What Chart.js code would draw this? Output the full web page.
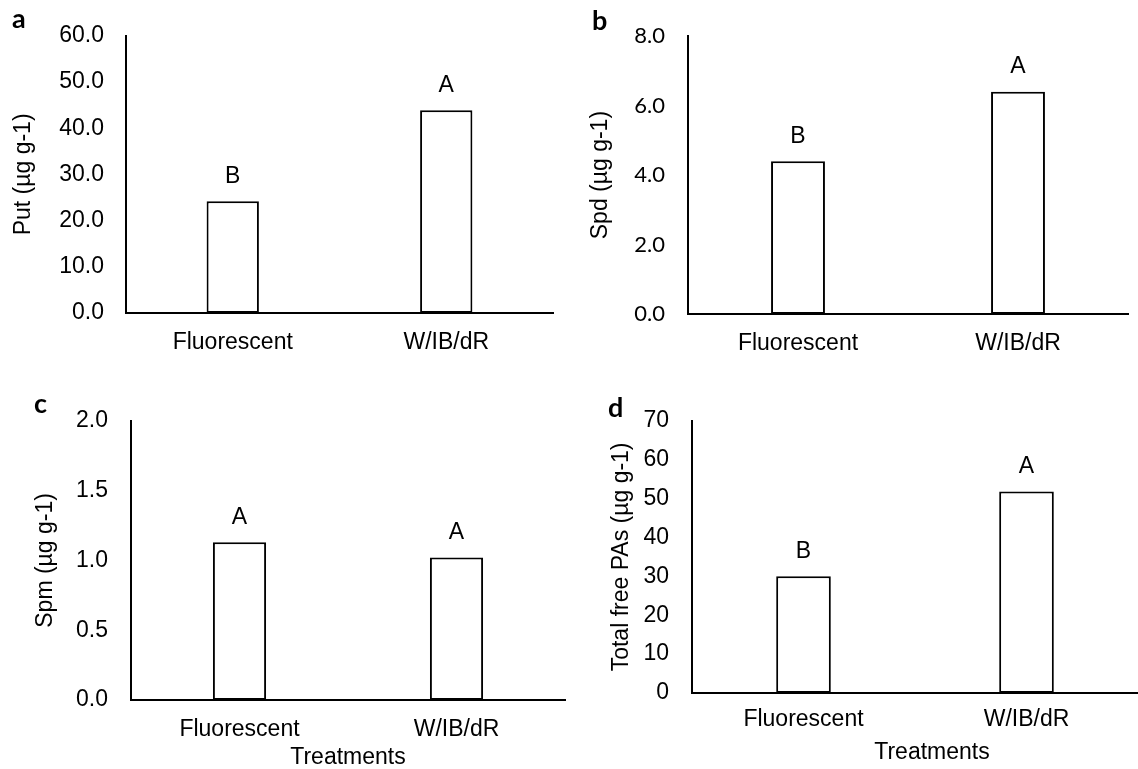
<!DOCTYPE html>
<html>
<head>
<meta charset="utf-8">
<script src="https://cdn.jsdelivr.net/npm/chart.js@4.4.1/dist/chart.umd.min.js"></script>
<style>
  html, body { margin: 0; padding: 0; background: #fff; width: 1138px; height: 769px; overflow: hidden; }
  canvas { position: absolute; }
</style>
</head>
<body>
<canvas id="ca" width="569" height="384" style="left:0px;top:0px;width:569px;height:384px"></canvas>
<canvas id="cb" width="569" height="384" style="left:569px;top:0px;width:569px;height:384px"></canvas>
<canvas id="cc" width="569" height="416" style="left:0px;top:384px;width:569px;height:416px"></canvas>
<canvas id="cd" width="569" height="416" style="left:569px;top:384px;width:569px;height:416px"></canvas>
<script>
// ---- data ----
const categories = ['Fluorescent', 'W/IB/dR'];

const putValues = [24.2, 43.9];
const spdValues = [4.4, 6.4];
const spmValues = [1.13, 1.02];
const totalValues = [30.0, 51.8];

const putLetters = ['B', 'A'];
const spdLetters = ['B', 'A'];
const spmLetters = ['A', 'A'];
const totalLetters = ['B', 'A'];

const putTicks = [0, 10, 20, 30, 40, 50, 60];
const spdTicks = [0, 2, 4, 6, 8];
const spmTicks = [0, 0.5, 1.0, 1.5, 2.0];
const totalTicks = [0, 10, 20, 30, 40, 50, 60, 70];

const panelNames = ['a', 'b', 'c', 'd'];
const yTitles = ['Put (µg g-1)', 'Spd (µg g-1)', 'Spm (µg g-1)', 'Total free PAs (µg g-1)'];
const xTitle = 'Treatments';

// ---- plugins ----
const ARIAL = "'Liberation Sans', Arial, sans-serif";
const CALIBRI = "Lato, 'Open Sans', sans-serif";

const letterPlugin = {
  id: 'sigLetters',
  afterDatasetsDraw(chart, args, opts) {
    const ctx = chart.ctx;
    const meta = chart.getDatasetMeta(0);
    ctx.save();
    ctx.fillStyle = '#000';
    ctx.font = opts.font;
    ctx.textAlign = 'center';
    ctx.textBaseline = 'middle';
    meta.data.forEach((bar, i) => {
      ctx.fillText(opts.letters[i], bar.x, bar.y - opts.offset);
    });
    ctx.restore();
  }
};

const panelLabelPlugin = {
  id: 'panelLabel',
  afterDraw(chart, args, opts) {
    const ctx = chart.ctx;
    ctx.save();
    ctx.fillStyle = '#000';
    ctx.font = opts.font;
    ctx.textAlign = 'left';
    ctx.textBaseline = 'alphabetic';
    ctx.fillText(opts.text, opts.x, opts.y);
    if (opts.xTitle) {
      const a = chart.chartArea;
      ctx.font = opts.xTitleFont;
      ctx.textAlign = 'center';
      ctx.textBaseline = 'middle';
      ctx.fillText(opts.xTitle, (a.left + a.right) / 2 + opts.xTitleShift, opts.xTitleY);
    }
    ctx.restore();
  }
};

function makePanel(id, p) {
  const font = { family: ARIAL, size: 23 };
  new Chart(document.getElementById(id), {
    type: 'bar',
    data: {
      labels: categories,
      datasets: [{
        data: p.values,
        backgroundColor: '#ffffff',
        borderColor: '#000000',
        borderWidth: 2,
        borderSkipped: false,
        barPercentage: 0.245,
        categoryPercentage: 1.0
      }]
    },
    options: {
      responsive: false,
      animation: false,
      layout: { padding: { top: p.padTop, right: p.padRight, left: 0, bottom: 0 } },
      plugins: {
        legend: { display: false },
        tooltip: { enabled: false },
        sigLetters: { letters: p.letters, offset: 25, font: "23px " + ARIAL },
        panelLabel: {
          text: p.name, x: p.nameX, y: p.nameY, font: "bold 27px " + CALIBRI,
          xTitle: p.xTitle, xTitleY: p.xTitleY, xTitleShift: p.xTitleShift || 0, xTitleFont: "23px " + ARIAL
        }
      },
      scales: {
        x: {
          grid: { display: false, drawTicks: false },
          border: { display: true, color: '#000', width: 2 },
          ticks: { color: '#000', font: font, padding: p.xTickPad, maxRotation: 0 },
          afterFit: s => { s.height = p.xHeight; }
        },
        y: {
          min: p.ticks[0],
          max: p.ticks[p.ticks.length - 1],
          afterBuildTicks: s => { s.ticks = p.ticks.map(v => ({ value: v })); },
          grid: { display: false, drawTicks: false },
          border: { display: true, color: '#000', width: 2 },
          ticks: {
            color: '#000',
            font: p.tickFont || font,
            padding: p.yTickPad,
            callback: v => Number(v).toFixed(p.decimals)
          },
          title: {
            display: true, text: p.yTitle, color: '#000', font: font,
            padding: { top: p.yTitlePad, bottom: 0 }
          },
          afterFit: s => { s.width = p.yWidth; }
        }
      }
    },
    plugins: [letterPlugin, panelLabelPlugin]
  });
}

makePanel('ca', {
  name: panelNames[0], nameX: 12, nameY: 28,
  values: putValues, letters: putLetters, ticks: putTicks, decimals: 1, yTitle: yTitles[0],
  padTop: 28, padRight: 16, yWidth: 126, xHeight: 71, yTitlePad: 10, yTickPad: 22, xTickPad: 16
});
makePanel('cb', {
  name: panelNames[1], nameX: 23, nameY: 30,
  values: spdValues, letters: spdLetters, ticks: spdTicks, decimals: 1, yTitle: yTitles[1],
  tickFont: { family: CALIBRI, size: 22 },
  padTop: 24, padRight: 10, yWidth: 119, xHeight: 70, yTitlePad: 18, yTickPad: 23, xTickPad: 16
});
makePanel('cc', {
  name: panelNames[2], nameX: 34, nameY: 29,
  values: spmValues, letters: spmLetters, ticks: spmTicks, decimals: 1, yTitle: yTitles[2],
  padTop: 22, padRight: 4, yWidth: 131, xHeight: 100, yTitlePad: 32, yTickPad: 23, xTickPad: 16,
  xTitle: xTitle, xTitleY: 374, xTitleShift: 0
});
makePanel('cd', {
  name: panelNames[3], nameX: 39, nameY: 33,
  values: totalValues, letters: totalLetters, ticks: totalTicks, decimals: 0, yTitle: yTitles[3],
  padTop: 21, padRight: 0, yWidth: 123, xHeight: 107, yTitlePad: 39, yTickPad: 23, xTickPad: 13,
  xTitle: xTitle, xTitleY: 369, xTitleShift: 17
});
</script>
</body>
</html>
